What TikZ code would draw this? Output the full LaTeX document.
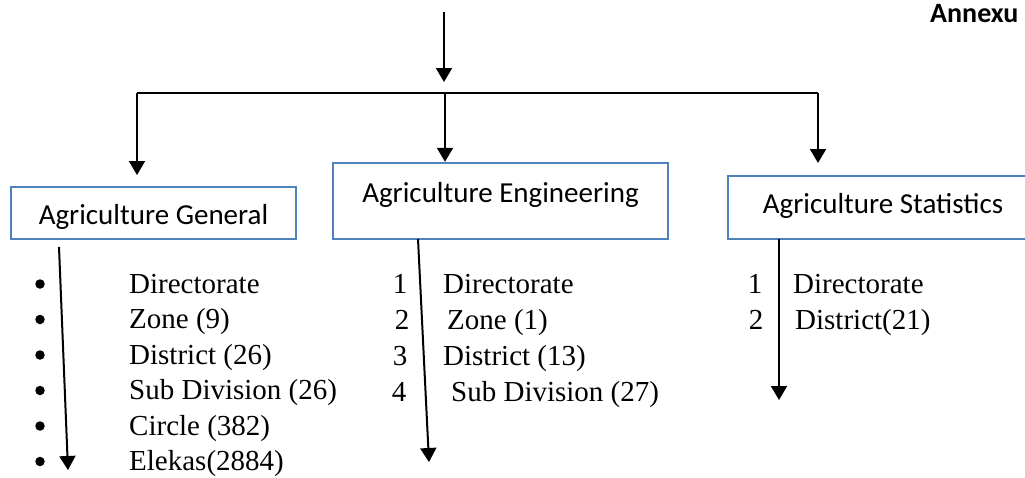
\documentclass[tikz,border=0pt]{standalone}
\usepackage{fontspec}
\setmainfont{Liberation Serif}
\newfontfamily\calib{Carlito}
\usetikzlibrary{arrows.meta}
\definecolor{boxblue}{HTML}{4F81BD}
\begin{document}
\begin{tikzpicture}[x=1pt,y=-1pt,
  arr/.style={line width=2pt,-{Triangle[width=16pt,length=14pt]}},
  bus/.style={line width=1.4pt},
  unit/.style={draw=boxblue,line width=2.4pt,inner sep=0pt,
    font=\calib\fontsize{29}{34}\selectfont},
  item/.style={anchor=base west,inner sep=0pt,font=\fontsize{29}{34}\selectfont},
  num/.style={anchor=base,inner sep=0pt,font=\fontsize{29}{34}\selectfont},
  dot/.style={circle,fill,inner sep=0pt,minimum size=9.5pt}]
\clip (0,0) rectangle (1025,477);

% heading
\node[anchor=base west,inner sep=0pt,font=\calib\bfseries\fontsize{28}{34}\selectfont]
  (annex) at (930,22) {Annexu};

% the three wings
\node[unit,minimum width=285pt,minimum height=52pt,text height=22pt,text depth=0pt]
  (gen) at (153.5,213) {Agriculture General};
\node[unit,minimum width=335pt,minimum height=76pt,text height=10pt,text depth=8pt]
  (eng) at (500.5,201) {Agriculture Engineering};
\node[unit,minimum width=310pt,minimum height=63pt,text height=14pt,text depth=3pt]
  (sta) at (883,207.5) {Agriculture Statistics};

% feed and distribution bar
\coordinate (src) at (444,12);
\coordinate (srcend) at (444,82);
\coordinate (busw) at (137,93);
\coordinate (busm) at (445,93);
\coordinate (buse) at (818,93);
\draw[arr] (src) -- (srcend);
\draw[bus] (busw) -- (buse);
\draw[arr] (busw) -- (137,175);
\draw[arr] (busm) -- (eng.north -| busm);
\draw[arr] (buse) -- (818,163);

% Agriculture General units
\foreach \t [count=\i from 0] in {Directorate,Zone (9),District (26),Sub Division (26),Circle (382),Elekas(2884)}{
  \node[item] (g\i) at (129,293+35.5*\i) {\t};
  \node[dot] (gb\i) at (40,284+35.5*\i) {};
}
\coordinate (gtop) at (59,247);
\coordinate (gend) at (68,470);
\draw[arr] (gtop) -- (gend);

% Agriculture Engineering units
\node[num] (e0n) at (400,293) {1};
\node[num] (e1n) at (402,329) {2};
\node[num] (e2n) at (400,365) {3};
\node[num] (e3n) at (399,401) {4};
\node[item] (e0) at (443,293) {Directorate};
\node[item] (e1) at (447,329) {Zone (1)};
\node[item] (e2) at (443,365) {District (13)};
\node[item] (e3) at (451,401) {Sub Division (27)};
\coordinate (etop) at (418,239);
\coordinate (eend) at (429,462);
\draw[arr] (etop) -- (eend);

% Agriculture Statistics units
\node[num] (s0n) at (755,293) {1};
\node[num] (s1n) at (756,329) {2};
\node[item] (s0) at (793,293) {Directorate};
\node[item] (s1) at (795,329) {District(21)};
\coordinate (stop) at (779,239);
\coordinate (send) at (779,400);
\draw[arr] (stop) -- (send);
\end{tikzpicture}
\end{document}
